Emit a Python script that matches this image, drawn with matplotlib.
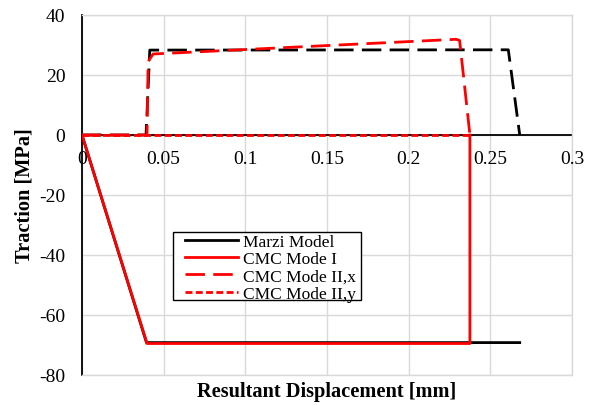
import matplotlib
matplotlib.use("Agg")
import matplotlib.pyplot as plt
from matplotlib.patches import Rectangle
from matplotlib.transforms import ScaledTranslation

plt.rcParams['font.family'] = ['Liberation Serif', 'DejaVu Serif']
plt.rcParams['axes.unicode_minus'] = False

# Marzi model, normal traction (solid black)
marzi_x = [0.0, 0.0395, 0.268]
marzi_y = [0.0, -69.2, -69.2]
# Marzi model, shear traction (dashed black)
marzi_sx = [0.0, 0.0392, 0.0415, 0.261, 0.268]
marzi_sy = [0.0, 0.0, 28.3, 28.4, 0.0]
# CMC Mode I
cmc1_x = [0.0, 0.0398, 0.2375, 0.2375]
cmc1_y = [0.0, -69.5, -69.5, 0.0]
# CMC Mode II,x
cmc2x_x = [0.0, 0.0398, 0.0405, 0.0435, 0.229, 0.2312, 0.2375]
cmc2x_y = [0.0, 0.0, 24.5, 27.0, 31.9, 31.5, 0.0]
# CMC Mode II,y
cmc2y_x = [0.0, 0.2375]
cmc2y_y = [0.0, 0.0]

xticks = [0, 0.05, 0.1, 0.15, 0.2, 0.25, 0.3]
xticklabels = ['0', '0.05', '0.1', '0.15', '0.2', '0.25', '0.3']
yticks = [-80, -60, -40, -20, 0, 20, 40]

W, H = 596, 406
fig = plt.figure(figsize=(W / 100, H / 100), dpi=100)
ax = fig.add_axes([82 / W, 1 - 376 / H, 490 / W, 360 / H])

ax.set_xlim(0, 0.3)
ax.set_ylim(-80, 40)
ax.set_xticks(xticks)
ax.set_xticklabels([])
ax.set_yticks(yticks)
ax.grid(True, color='#d9d9d9', linewidth=1.0)
ax.set_axisbelow(True)
for side in ['top', 'right', 'bottom']:
    ax.spines[side].set_color('#d9d9d9')
    ax.spines[side].set_linewidth(1.0)
ax.spines['left'].set_color('black')
ax.spines['left'].set_linewidth(1.3)
ax.axhline(0, color='black', linewidth=1.3, zorder=1.5)

ax.tick_params(axis='both', length=0, labelsize=14)
ax.tick_params(axis='y', pad=12)

# x tick labels hang just under the zero line
offset = ScaledTranslation(0, -11 / 72, fig.dpi_scale_trans)
for xv, t in zip(xticks, xticklabels):
    ax.text(xv, 0, t, transform=ax.transData + offset,
            ha='center', va='top', fontsize=14)

lw = 2.0
ax.plot(marzi_x, marzi_y, color='black', linewidth=lw, label='Marzi Model', zorder=3)
ax.plot(marzi_sx, marzi_sy, color='black', linewidth=lw, dashes=(7, 3), zorder=3)
ax.plot(cmc1_x, cmc1_y, color='#ff0000', linewidth=lw, label='CMC Mode I', zorder=4)
ax.plot(cmc2x_x, cmc2x_y, color='#ff0000', linewidth=lw, dashes=(7, 3), label='CMC Mode II,x', zorder=4)
ax.plot(cmc2y_x, cmc2y_y, color='#ff0000', linewidth=lw, dashes=(2.5, 1.2), label='CMC Mode II,y', zorder=4)

# legend box with its frame drawn separately
box = Rectangle((173 / W, 1 - 301 / H), (361 - 173) / W, (301 - 233) / H,
                transform=fig.transFigure, facecolor='white', edgecolor='black',
                linewidth=1.0, zorder=5)
fig.add_artist(box)
leg = ax.legend(loc='upper left', bbox_to_anchor=(185 / W, 1 - 235 / H),
                bbox_transform=fig.transFigure,
                fontsize=12.5, frameon=False,
                handlelength=3.05, borderpad=0, labelspacing=0.06, handletextpad=0.3,
                borderaxespad=0)
leg.set_zorder(6)
fig.add_artist(leg)

ax.xaxis.set_label_coords(0.5, -0.018)
ax.set_xlabel('Resultant Displacement [mm]', fontsize=14.7, fontweight='bold', va='top')
ax.set_ylabel('Traction [MPa]', fontsize=14.7, fontweight='bold', labelpad=3)

fig.savefig('out.png', dpi=100)
